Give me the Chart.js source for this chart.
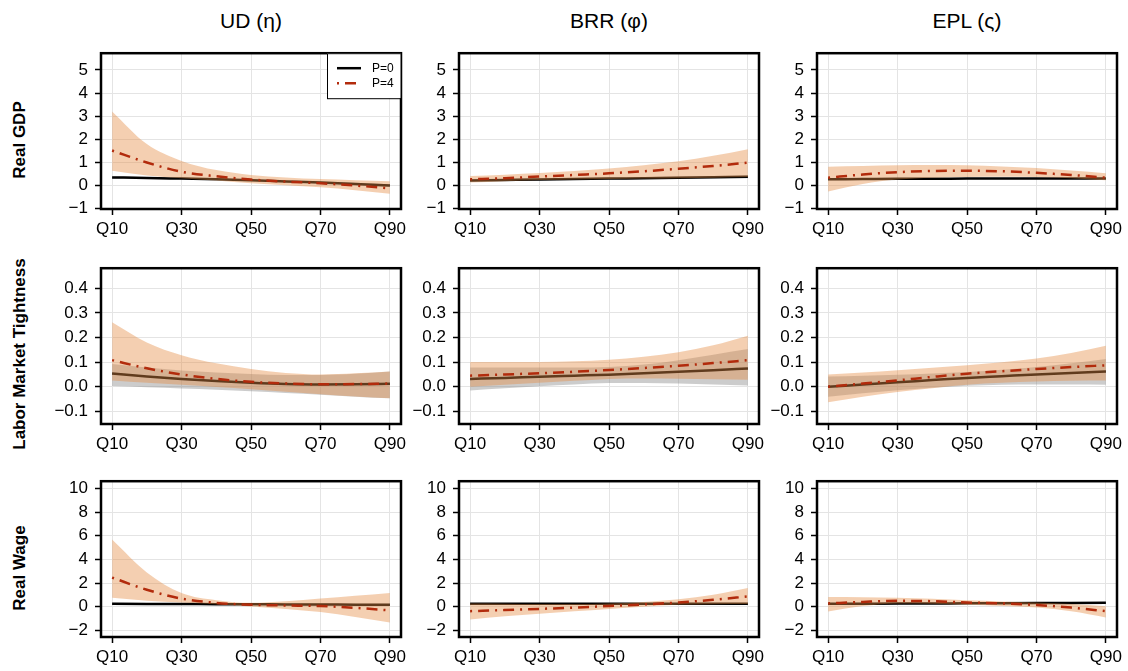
<!DOCTYPE html>
<html><head><meta charset="utf-8">
<script src="https://cdn.jsdelivr.net/npm/chart.js@4.4.1/dist/chart.umd.min.js"></script>
<style>
body{margin:0;width:1128px;height:671px;background:#fff;position:relative;overflow:hidden;font-family:"Liberation Sans",Arial,sans-serif}
.panel{position:absolute}
.ctitle{position:absolute;text-align:center;font-size:21px;line-height:20px;color:#000;white-space:nowrap}
.rtitle{position:absolute;width:300px;height:20px;line-height:20px;text-align:center;font-weight:bold;font-size:17px;color:#000;transform:rotate(-90deg);white-space:nowrap}
</style></head><body>
<script>
// ---------- labels ----------
const quantiles = [10,20,30,40,50,60,70,80,90];
const xTickValues = [10,30,50,70,90];
const xTickLabels = ["Q10","Q30","Q50","Q70","Q90"];
const columnTitles = ["UD (\u03B7)","BRR (\u03C6)","EPL (\u03C2)"];
const rowTitles = ["Real GDP","Labor Market Tightness","Real Wage"];
const legendLabels = ["P=0","P=4"];
const yTicksGDP = [-1,0,1,2,3,4,5];
const yTicksLMT = [-0.1,0,0.1,0.2,0.3,0.4];
const yTicksWage = [-2,0,2,4,6,8,10];

// ---------- Real GDP ----------
const gdpUdP0   = [0.33,0.31,0.28,0.25,0.21,0.16,0.11,0.05,-0.02];
const gdpUdP0Lo = [0.29,0.27,0.25,0.22,0.18,0.13,0.07,0.00,-0.08];
const gdpUdP0Hi = [0.37,0.35,0.32,0.28,0.24,0.19,0.15,0.10,0.04];
const gdpUdP4   = [1.50,0.98,0.58,0.38,0.24,0.15,0.08,-0.02,-0.14];
const gdpUdP4Lo = [0.62,0.42,0.30,0.20,0.08,-0.01,-0.10,-0.22,-0.38];
const gdpUdP4Hi = [3.20,1.78,1.05,0.65,0.44,0.33,0.26,0.21,0.17];

const gdpBrrP0   = [0.20,0.22,0.24,0.26,0.28,0.30,0.32,0.34,0.36];
const gdpBrrP0Lo = [0.16,0.18,0.20,0.22,0.24,0.26,0.28,0.29,0.30];
const gdpBrrP0Hi = [0.24,0.26,0.28,0.30,0.32,0.34,0.37,0.39,0.42];
const gdpBrrP4   = [0.25,0.30,0.37,0.44,0.51,0.60,0.71,0.83,0.97];
const gdpBrrP4Lo = [0.11,0.17,0.22,0.24,0.26,0.28,0.30,0.32,0.35];
const gdpBrrP4Hi = [0.39,0.45,0.52,0.61,0.72,0.86,1.03,1.27,1.56];

const gdpEplP0   = [0.25,0.26,0.27,0.27,0.28,0.28,0.28,0.28,0.28];
const gdpEplP0Lo = [0.21,0.23,0.24,0.25,0.25,0.25,0.25,0.25,0.24];
const gdpEplP0Hi = [0.29,0.29,0.30,0.30,0.31,0.31,0.31,0.31,0.32];
const gdpEplP4   = [0.32,0.46,0.56,0.61,0.62,0.60,0.53,0.44,0.32];
const gdpEplP4Lo = [-0.28,0.05,0.24,0.32,0.35,0.36,0.35,0.30,0.21];
const gdpEplP4Hi = [0.80,0.83,0.86,0.87,0.86,0.81,0.74,0.63,0.51];

// ---------- Labor Market Tightness ----------
const lmtUdP0   = [0.054,0.042,0.032,0.023,0.016,0.011,0.009,0.010,0.012];
const lmtUdP0Lo = [0.003,-0.002,-0.007,-0.012,-0.018,-0.025,-0.032,-0.040,-0.047];
const lmtUdP0Hi = [0.092,0.078,0.066,0.058,0.052,0.048,0.048,0.053,0.062];
const lmtUdP4   = [0.108,0.075,0.050,0.032,0.020,0.013,0.010,0.011,0.013];
const lmtUdP4Lo = [0.025,0.016,0.008,-0.001,-0.010,-0.020,-0.030,-0.039,-0.047];
const lmtUdP4Hi = [0.262,0.180,0.128,0.095,0.072,0.056,0.050,0.055,0.062];

const lmtBrrP0   = [0.032,0.036,0.041,0.045,0.049,0.055,0.061,0.067,0.074];
const lmtBrrP0Lo = [-0.015,-0.006,0.002,0.009,0.015,0.015,0.013,0.009,0.005];
const lmtBrrP0Hi = [0.078,0.078,0.078,0.078,0.080,0.090,0.108,0.130,0.153];
const lmtBrrP4   = [0.045,0.050,0.055,0.061,0.068,0.076,0.085,0.096,0.108];
const lmtBrrP4Lo = [0.000,0.008,0.016,0.024,0.032,0.034,0.033,0.031,0.029];
const lmtBrrP4Hi = [0.100,0.100,0.101,0.104,0.110,0.122,0.140,0.168,0.207];

const lmtEplP0   = [0.000,0.009,0.018,0.027,0.036,0.043,0.050,0.056,0.062];
const lmtEplP0Lo = [-0.040,-0.026,-0.014,-0.004,0.004,0.008,0.009,0.009,0.008];
const lmtEplP0Hi = [0.042,0.045,0.049,0.054,0.060,0.069,0.080,0.095,0.113];
const lmtEplP4   = [0.000,0.013,0.026,0.040,0.053,0.063,0.072,0.080,0.087];
const lmtEplP4Lo = [-0.063,-0.040,-0.021,-0.006,0.008,0.016,0.021,0.024,0.025];
const lmtEplP4Hi = [0.050,0.058,0.067,0.077,0.087,0.099,0.115,0.137,0.166];

// ---------- Real Wage ----------
const wageUdP0   = [0.24,0.23,0.22,0.21,0.20,0.19,0.18,0.17,0.16];
const wageUdP0Lo = [0.16,0.16,0.15,0.14,0.13,0.12,0.11,0.09,0.07];
const wageUdP0Hi = [0.32,0.31,0.30,0.28,0.27,0.26,0.25,0.25,0.25];
const wageUdP4   = [2.46,1.43,0.68,0.32,0.16,0.10,0.05,-0.10,-0.32];
const wageUdP4Lo = [0.76,0.50,0.35,0.20,0.02,-0.20,-0.46,-0.88,-1.35];
const wageUdP4Hi = [5.68,2.90,1.16,0.55,0.32,0.45,0.68,0.92,1.16];

const wageBrrP0   = [0.24,0.24,0.24,0.24,0.24,0.24,0.24,0.24,0.24];
const wageBrrP0Lo = [0.17,0.17,0.17,0.17,0.17,0.17,0.17,0.17,0.17];
const wageBrrP0Hi = [0.31,0.31,0.31,0.31,0.31,0.31,0.31,0.31,0.31];
const wageBrrP4   = [-0.38,-0.29,-0.19,-0.08,0.05,0.19,0.35,0.58,0.86];
const wageBrrP4Lo = [-1.08,-0.82,-0.60,-0.40,-0.19,0.00,0.16,0.21,0.22];
const wageBrrP4Hi = [0.27,0.25,0.22,0.22,0.27,0.40,0.62,1.00,1.57];

const wageEplP0   = [0.24,0.25,0.26,0.27,0.28,0.29,0.30,0.31,0.32];
const wageEplP0Lo = [0.17,0.18,0.19,0.20,0.21,0.22,0.23,0.24,0.25];
const wageEplP0Hi = [0.31,0.32,0.33,0.34,0.35,0.36,0.37,0.38,0.39];
const wageEplP4   = [0.27,0.40,0.49,0.46,0.35,0.27,0.14,-0.08,-0.38];
const wageEplP4Lo = [-0.41,0.05,0.27,0.24,0.16,0.05,-0.08,-0.40,-0.92];
const wageEplP4Hi = [0.81,0.80,0.76,0.66,0.54,0.44,0.35,0.22,0.03];

// ---------- layout / style ----------
const FONT = '"Liberation Sans", Arial, sans-serif';
const colLeft = [101, 459, 817], frameW = 300;
const rowTop = [48, 263, 476], frameH = 161;
const padL = 60, padT = 12, padR = 25, padB = 36;
const greyBand = 'rgba(128,128,128,0.40)';
const orangeBand = 'rgba(228,140,70,0.42)';
const redLine = '#B22B0C';
const dashDot = [2,6,11,6];

const rowsCfg = [
  {min:-1.04, max:5.73, ticks:yTicksGDP, dec:0},
  {min:-0.151, max:0.481, ticks:yTicksLMT, dec:1},
  {min:-2.57, max:10.62, ticks:yTicksWage, dec:0}
];
const panelSeries = [
  [[gdpUdP0Lo,gdpUdP0Hi,gdpUdP0,gdpUdP4Lo,gdpUdP4Hi,gdpUdP4],
   [gdpBrrP0Lo,gdpBrrP0Hi,gdpBrrP0,gdpBrrP4Lo,gdpBrrP4Hi,gdpBrrP4],
   [gdpEplP0Lo,gdpEplP0Hi,gdpEplP0,gdpEplP4Lo,gdpEplP4Hi,gdpEplP4]],
  [[lmtUdP0Lo,lmtUdP0Hi,lmtUdP0,lmtUdP4Lo,lmtUdP4Hi,lmtUdP4],
   [lmtBrrP0Lo,lmtBrrP0Hi,lmtBrrP0,lmtBrrP4Lo,lmtBrrP4Hi,lmtBrrP4],
   [lmtEplP0Lo,lmtEplP0Hi,lmtEplP0,lmtEplP4Lo,lmtEplP4Hi,lmtEplP4]],
  [[wageUdP0Lo,wageUdP0Hi,wageUdP0,wageUdP4Lo,wageUdP4Hi,wageUdP4],
   [wageBrrP0Lo,wageBrrP0Hi,wageBrrP0,wageBrrP4Lo,wageBrrP4Hi,wageBrrP4],
   [wageEplP0Lo,wageEplP0Hi,wageEplP0,wageEplP4Lo,wageEplP4Hi,wageEplP4]]
];

const xy = arr => quantiles.map((q,i)=>({x:q, y:arr[i]}));

const framePlugin = {
  id:'frame',
  afterDraw(chart){
    const {left,top,right,bottom} = chart.chartArea;
    const ctx = chart.ctx;
    ctx.save();
    ctx.strokeStyle = '#000'; ctx.lineWidth = 2.5;
    ctx.strokeRect(left, top, right-left, bottom-top);
    ctx.restore();
  }
};
const legendPlugin = {
  id:'legendBox',
  afterDraw(chart){
    const {top,right} = chart.chartArea;
    const ctx = chart.ctx;
    const w = 74, h = 45;
    ctx.save();
    ctx.fillStyle = '#fff';
    ctx.fillRect(right-w, top, w, h);
    ctx.strokeStyle = '#000'; ctx.lineWidth = 1;
    ctx.strokeRect(right-w+0.5, top+0.5, w-0.5, h);
    ctx.font = '12px ' + FONT;
    ctx.textBaseline = 'middle';
    ctx.fillStyle = '#000';
    ctx.lineWidth = 2.5; ctx.strokeStyle = '#000'; ctx.lineCap = 'butt';
    ctx.beginPath(); ctx.moveTo(right-w+10, top+15); ctx.lineTo(right-w+34, top+15); ctx.stroke();
    ctx.fillText(legendLabels[0], right-w+45, top+15);
    ctx.strokeStyle = redLine; ctx.setLineDash(dashDot);
    ctx.beginPath(); ctx.moveTo(right-w+10, top+30); ctx.lineTo(right-w+34, top+30); ctx.stroke();
    ctx.setLineDash([]);
    ctx.fillText(legendLabels[1], right-w+45, top+30);
    ctx.restore();
  }
};

function fmt(v, dec){
  const s = Math.abs(v) < 1e-9 ? (0).toFixed(dec) : v.toFixed(dec);
  return s.replace('-', '\u2212');
}

function makePanel(r, c){
  const div = document.createElement('div');
  div.className = 'panel';
  div.style.left = (colLeft[c]-padL)+'px';
  div.style.top = (rowTop[r]-padT)+'px';
  div.style.width = (frameW+padL+padR)+'px';
  div.style.height = (frameH+padT+padB)+'px';
  const cv = document.createElement('canvas');
  div.appendChild(cv);
  document.body.appendChild(div);
  const s = panelSeries[r][c];
  const rc = rowsCfg[r];
  const base = {pointRadius:0, pointHoverRadius:0, cubicInterpolationMode:'monotone', spanGaps:true};
  const datasets = [
    Object.assign({}, base, {data:xy(s[0]), borderWidth:0, borderColor:'rgba(0,0,0,0)', fill:false, order:5}),
    Object.assign({}, base, {data:xy(s[1]), borderWidth:0, borderColor:'rgba(0,0,0,0)', backgroundColor:greyBand, fill:'-1', order:4}),
    Object.assign({}, base, {data:xy(s[2]), borderWidth:2.5, borderColor:'#000', fill:false, order:3}),
    Object.assign({}, base, {data:xy(s[3]), borderWidth:0, borderColor:'rgba(0,0,0,0)', fill:false, order:2}),
    Object.assign({}, base, {data:xy(s[4]), borderWidth:0, borderColor:'rgba(0,0,0,0)', backgroundColor:orangeBand, fill:'-1', order:1}),
    Object.assign({}, base, {data:xy(s[5]), borderWidth:2.5, borderColor:redLine, borderDash:dashDot, borderCapStyle:'butt', fill:false, order:0})
  ];
  const plugins = [framePlugin];
  if (r===0 && c===0) plugins.push(legendPlugin);
  new Chart(cv, {
    type:'line',
    data:{datasets},
    plugins,
    options:{
      responsive:true, maintainAspectRatio:false, animation:false, events:[],
      layout:{padding:{top:padT, right:padR, left:0, bottom:0}},
      plugins:{legend:{display:false}, tooltip:{enabled:false}},
      scales:{
        x:{type:'linear', min:6.8, max:93.2,
          afterBuildTicks: a => { a.ticks = xTickValues.map(v=>({value:v})); },
          afterFit: s => { s.height = padB; },
          ticks:{autoSkip:false, maxRotation:0, color:'#000', padding:4, font:{family:FONT, size:17},
            callback: v => xTickLabels[xTickValues.indexOf(v)]},
          grid:{color:'#e4e4e4', lineWidth:1, tickColor:'#000', tickLength:6, tickWidth:1.5},
          border:{display:false}
        },
        y:{type:'linear', min:rc.min, max:rc.max,
          afterBuildTicks: a => { a.ticks = rc.ticks.map(v=>({value:v})); },
          afterFit: s => { s.width = padL; },
          ticks:{autoSkip:false, color:'#000', padding:7, font:{family:FONT, size:17},
            callback: v => fmt(v, rc.dec)},
          grid:{color:'#e4e4e4', lineWidth:1, tickColor:'#000', tickLength:6, tickWidth:1.5},
          border:{display:false}
        }
      }
    }
  });
}

for (let c=0;c<3;c++){
  const t = document.createElement('div');
  t.className = 'ctitle';
  t.style.left = colLeft[c]+'px'; t.style.width = frameW+'px'; t.style.top = '11px';
  t.textContent = columnTitles[c];
  document.body.appendChild(t);
}
const rowLabelCenter = [140, 354, 568];
for (let r=0;r<3;r++){
  const t = document.createElement('div');
  t.className = 'rtitle';
  t.style.left = (20-150)+'px'; t.style.top = (rowLabelCenter[r]-10)+'px';
  t.textContent = rowTitles[r];
  document.body.appendChild(t);
}
for (let r=0;r<3;r++) for (let c=0;c<3;c++) makePanel(r,c);
</script>
</body></html>
